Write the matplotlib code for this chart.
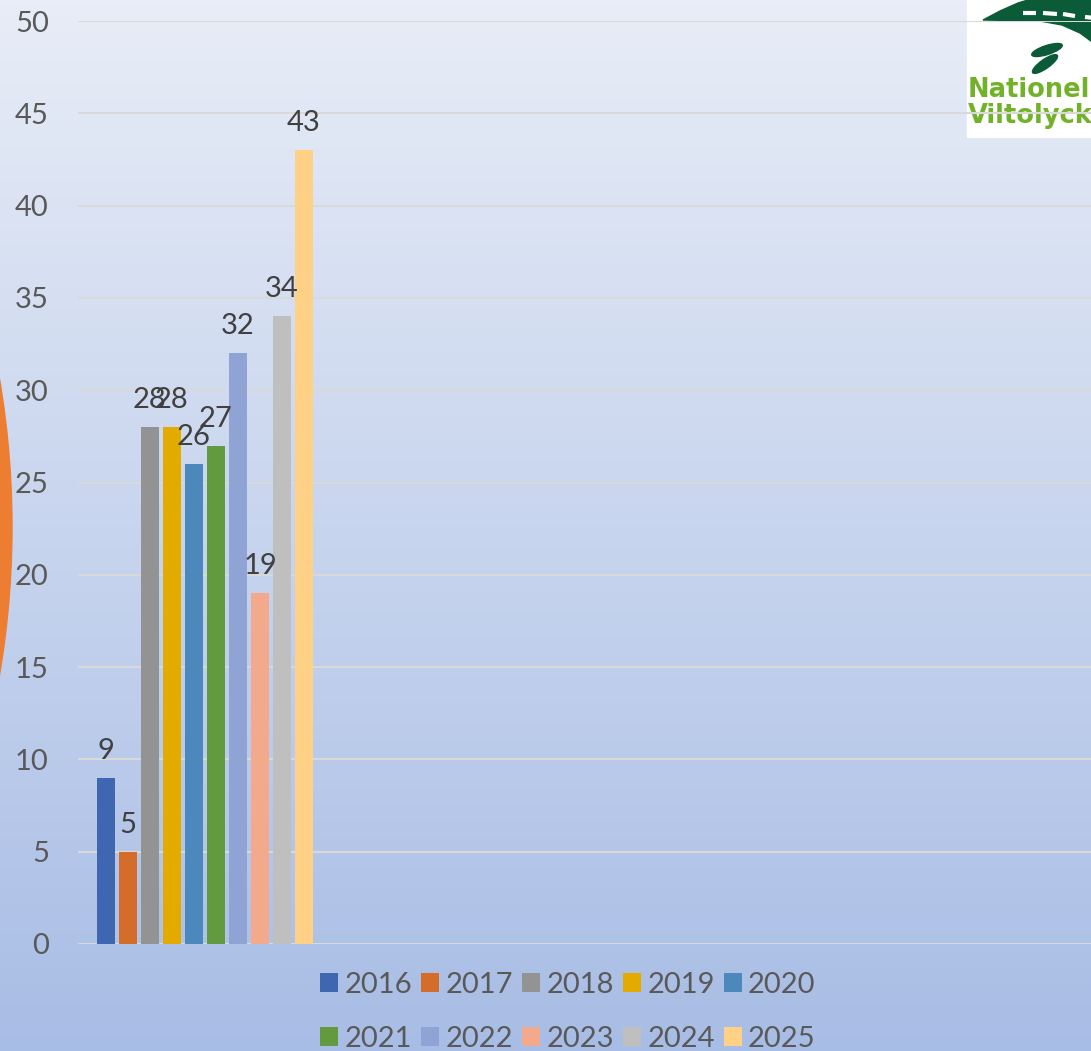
import numpy as np
import matplotlib
matplotlib.use('Agg')
import matplotlib.pyplot as plt
from matplotlib.patches import Rectangle, Ellipse, Patch, Polygon

# Counts per year
years = ['2016', '2017', '2018', '2019', '2020', '2021', '2022', '2023', '2024', '2025']
counts = [9, 5, 28, 28, 26, 27, 32, 19, 34, 43]
colors = ['#3f67b1', '#d56d2a', '#939393', '#e3aa00', '#4d88bd', '#629b3f',
          '#8fa4d5', '#f2a98c', '#bfbfbf', '#ffd186']

W, H = 1091, 1051
plt.rcParams['font.family'] = ['Lato', 'DejaVu Sans']

fig = plt.figure(figsize=(W / 100, H / 100), dpi=100)

# vertical gradient background
bg = fig.add_axes([0, 0, 1, 1], zorder=-10)
grad = np.linspace(0, 1, 256)[:, None]
top = np.array([232, 237, 247]) / 255
bot = np.array([168, 189, 229]) / 255
img = top[None, None, :] * (1 - grad[..., None]) + bot[None, None, :] * grad[..., None]
bg.imshow(img, aspect='auto', extent=[0, W, H, 0])
bg.set_xlim(0, W)
bg.set_ylim(H, 0)
bg.axis('off')

# orange disc peeking in on the left edge
bg.add_patch(Ellipse((-870, 527), 1764, 1764, color='#ed7d31', zorder=2))

# logo block in the top right corner
green = '#0b5a38'
bg.add_patch(Rectangle((967, 0), 130, 137, color='white', zorder=3))
bg.add_patch(Polygon([(983, 20), (1000, 11), (1018, 3), (1028, 0), (1095, 0),
                      (1095, 44), (1080, 33), (1062, 25), (1040, 21)],
                     closed=True, color=green, zorder=4))
for xa, xb, ya, yb in [(1023, 1036, 13, 13), (1043, 1057, 13, 14),
                       (1063, 1075, 14, 16), (1085, 1095, 17, 18)]:
    bg.plot([xa, xb], [ya, yb], color='white', lw=3, solid_capstyle='butt', zorder=5)
bg.add_patch(Ellipse((1047, 50), 32, 9, angle=-18, color=green, zorder=4))
bg.add_patch(Ellipse((1045, 64), 30, 9, angle=-35, color=green, zorder=4))
bg.text(968, 97, 'Nationella', color='#72b22a', fontsize=18.5, fontweight='bold',
        family='DejaVu Sans', va='baseline', zorder=5)
bg.text(968, 123, 'Viltolycksrådet', color='#72b22a', fontsize=18.5, fontweight='bold',
        family='DejaVu Sans', va='baseline', zorder=5)

# plot area in pixel-derived figure fractions
left, right = 78 / W, 1091 / W
y0, y50 = 944, 21
ax = fig.add_axes([left, 1 - y0 / H, right - left, (y0 - y50) / H])
ax.set_facecolor('none')

step = 22
x = np.arange(len(years))
ax.bar(x, counts, width=18 / step, color=colors, zorder=3)
for xi, v in zip(x, counts):
    ax.annotate(str(v), (xi, v), xytext=(0, 10), textcoords='offset points',
                ha='center', va='bottom', fontsize=21, color='#404040')

ax.set_xlim(-(106 - 78) / step, (1091 - 106) / step)
ax.set_ylim(0, 50)
ax.set_yticks(np.arange(0, 51, 5))
ax.set_xticks([])
ax.grid(axis='y', color='#d9d9d9', lw=1.5, zorder=0)
ax.tick_params(axis='y', length=0, pad=21, labelsize=21, labelcolor='#595959')
for s in ax.spines.values():
    s.set_visible(False)
ax.axhline(0, color='#d9d9d9', lw=1.5, zorder=1)

# legend fills row by row: reorder for matplotlib's column-first layout
order = [0, 5, 1, 6, 2, 7, 3, 8, 4, 9]
handles = [Patch(facecolor=colors[i], edgecolor='none') for i in order]
labels = [years[i] for i in order]
fig.legend(handles, labels, loc='center', bbox_to_anchor=(568 / W, 1 - 1012 / H),
           ncol=5, frameon=False, fontsize=21, labelcolor='#595959',
           handlelength=0.62, handleheight=0.62, handletextpad=0.22,
           columnspacing=0.3, labelspacing=0.95)

fig.savefig('out.png', dpi=100)
